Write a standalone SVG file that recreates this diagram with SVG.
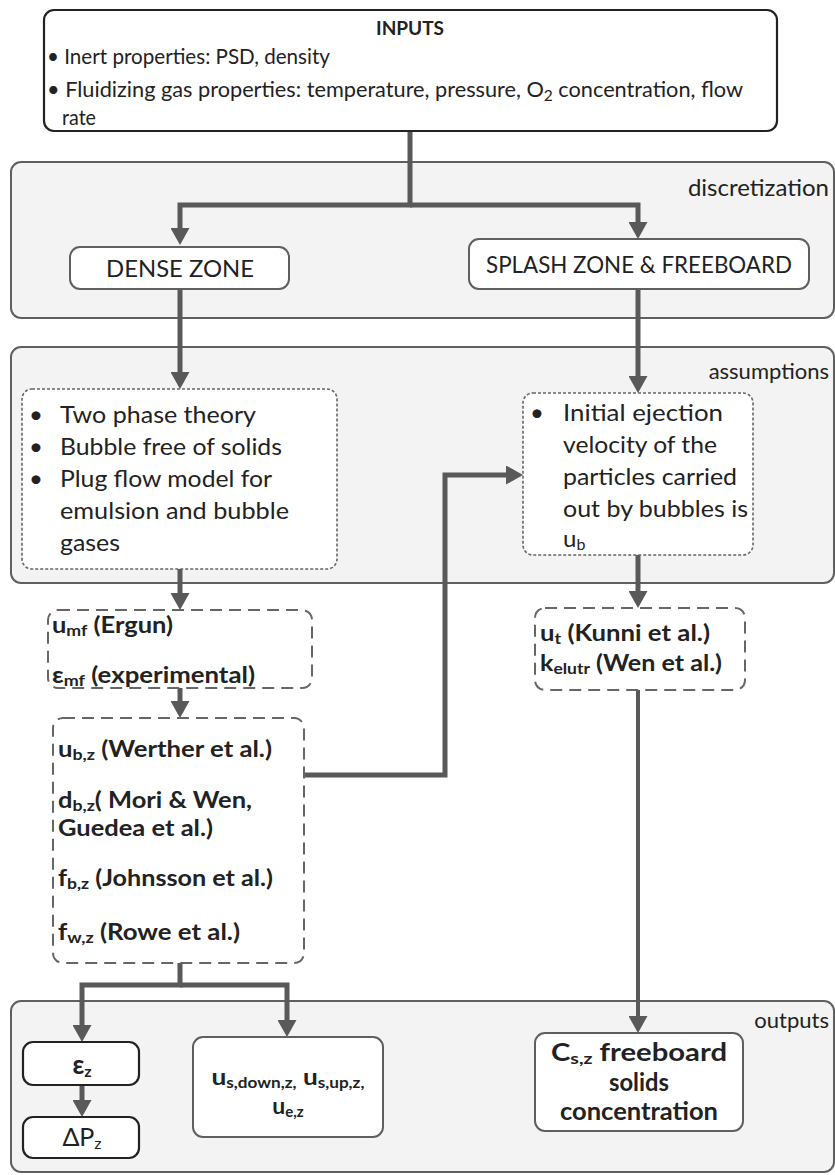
<svg xmlns="http://www.w3.org/2000/svg" width="835" height="1175" viewBox="0 0 835 1175">
<defs>
  <marker id="arrow" viewBox="0 0 17 19" refX="9" refY="9.5" markerWidth="17" markerHeight="19" markerUnits="userSpaceOnUse" orient="auto">
    <path d="M0,0 L17,9.5 L0,19 z" fill="#595959"/>
  </marker>
  <style>
    .panel{fill:#f2f3f2;stroke:#5f5f5f;stroke-width:2}
    .box{fill:#fff;stroke:#5f5f5f;stroke-width:2}
    .boxdark{fill:#fff;stroke:#222;stroke-width:2.2}
    .dotted{fill:#fff;stroke:#666;stroke-width:1.6;stroke-dasharray:3 2}
    .dashed{fill:#fff;stroke:#666;stroke-width:2;stroke-dasharray:12 7}
    .conn{fill:none;stroke:#595959;stroke-width:5}
    text{font-family:Lato,"Open Sans","Liberation Sans",sans-serif;fill:#222}
    .b{font-weight:bold}
    .lab{font-size:22px;text-anchor:end}
    .list{font-size:24px}
    .calc{font-size:23px;font-weight:bold}
    .mid{text-anchor:middle}
  </style>
</defs>

<!-- background panels -->
<g id="panel-discretization">
  <rect class="panel" x="11" y="162" width="823" height="156" rx="10"/>
  <text class="lab" x="829" y="196" style="font-size:24px">discretization</text>
</g>
<g id="panel-assumptions">
  <rect class="panel" x="11" y="347" width="823" height="236" rx="10"/>
  <text class="lab" x="829" y="379">assumptions</text>
</g>
<g id="panel-outputs">
  <rect class="panel" x="11" y="1001" width="823" height="171" rx="10"/>
  <text class="lab" x="829" y="1028">outputs</text>
</g>

<!-- connectors -->
<g id="connectors" class="conn">
  <path d="M410,131 V205 H180 V237" marker-end="url(#arrow)"/>
  <path d="M410,205 H638 V231" marker-end="url(#arrow)"/>
  <path d="M180,289 V381" marker-end="url(#arrow)"/>
  <path d="M638,289 V385" marker-end="url(#arrow)"/>
  <path d="M180,569 V602" marker-end="url(#arrow)"/>
  <path d="M180,688 V710" marker-end="url(#arrow)"/>
  <path d="M304,775 H445 V475 H515" marker-end="url(#arrow)"/>
  <path d="M638,555 V600" marker-end="url(#arrow)"/>
  <path d="M638,690 V1025" stroke-width="4" marker-end="url(#arrow)"/>
  <path d="M180,963 V985 H82 V1034" marker-end="url(#arrow)"/>
  <path d="M180,985 H287 V1029" marker-end="url(#arrow)"/>
  <path d="M82,1085 V1109" marker-end="url(#arrow)"/>
</g>

<!-- inputs -->
<g id="inputs">
  <rect class="boxdark" x="44" y="10" width="733" height="121" rx="10"/>
  <text class="b mid" x="410" y="35" font-size="19" textLength="68" lengthAdjust="spacingAndGlyphs">INPUTS</text>
  <text x="47" y="64" font-size="21" textLength="283" lengthAdjust="spacingAndGlyphs">• Inert properties: PSD, density</text>
  <text x="47" y="97" font-size="21" textLength="696" lengthAdjust="spacingAndGlyphs">• Fluidizing gas properties: temperature, pressure, O<tspan font-size="15" dy="4">2</tspan><tspan dy="-4">  concentration, flow</tspan></text>
  <text x="62" y="125" font-size="21" textLength="34" lengthAdjust="spacingAndGlyphs">rate</text>
</g>

<!-- discretization -->
<g id="dense-zone">
  <rect class="box" x="70" y="247" width="219" height="42" rx="10"/>
  <text class="mid" x="180" y="277" font-size="23" textLength="148" lengthAdjust="spacingAndGlyphs">DENSE ZONE</text>
</g>
<g id="splash-zone">
  <rect class="box" x="469" y="239" width="340" height="50" rx="10"/>
  <text class="mid" x="639" y="273" font-size="23" textLength="306" lengthAdjust="spacingAndGlyphs">SPLASH ZONE &amp; FREEBOARD</text>
</g>

<!-- assumptions -->
<g id="dense-assumptions">
  <rect class="dotted" x="22" y="389" width="315" height="180" rx="10"/>
  <g class="list">
    <text x="29" y="423">•</text><text x="60" y="423" textLength="196" lengthAdjust="spacingAndGlyphs">Two phase theory</text>
    <text x="29" y="455">•</text><text x="60" y="455" textLength="222" lengthAdjust="spacingAndGlyphs">Bubble free of solids</text>
    <text x="29" y="487">•</text><text x="60" y="487" textLength="212" lengthAdjust="spacingAndGlyphs">Plug flow model for</text>
    <text x="60" y="519" textLength="229" lengthAdjust="spacingAndGlyphs">emulsion and bubble</text>
    <text x="60" y="551" textLength="60" lengthAdjust="spacingAndGlyphs">gases</text>
  </g>
</g>
<g id="splash-assumptions">
  <rect class="dotted" x="523" y="393" width="230" height="162" rx="10"/>
  <g class="list">
    <text x="530" y="421">•</text><text x="563" y="421" textLength="160" lengthAdjust="spacingAndGlyphs">Initial ejection</text>
    <text x="563" y="453" textLength="154" lengthAdjust="spacingAndGlyphs">velocity of the</text>
    <text x="563" y="485" textLength="174" lengthAdjust="spacingAndGlyphs">particles carried</text>
    <text x="563" y="517" textLength="185" lengthAdjust="spacingAndGlyphs">out by bubbles is</text>
    <text x="563" y="547">u<tspan font-size="16" dy="3">b</tspan></text>
  </g>
</g>

<!-- correlations -->
<g id="minimum-fluidization">
  <rect class="dashed" x="48" y="610" width="264" height="78" rx="10"/>
  <text class="calc" x="52" y="633" textLength="121" lengthAdjust="spacingAndGlyphs">u<tspan font-size="16" dy="3">mf</tspan><tspan dy="-3"> (Ergun)</tspan></text>
  <text class="calc" x="52" y="683" textLength="203" lengthAdjust="spacingAndGlyphs">ε<tspan font-size="16" dy="3">mf</tspan><tspan dy="-3"> (experimental)</tspan></text>
</g>
<g id="bubble-correlations">
  <rect class="dashed" x="53" y="718" width="251" height="245" rx="10"/>
  <text class="calc" x="58" y="757" textLength="214" lengthAdjust="spacingAndGlyphs">u<tspan font-size="16" dy="3">b,z</tspan><tspan dy="-3"> (Werther et al.)</tspan></text>
  <text class="calc" x="58" y="808" textLength="194" lengthAdjust="spacingAndGlyphs">d<tspan font-size="16" dy="3">b,z</tspan><tspan dy="-3">( Mori &amp; Wen,</tspan></text>
  <text class="calc" x="58" y="836" textLength="155" lengthAdjust="spacingAndGlyphs">Guedea et al.)</text>
  <text class="calc" x="58" y="886" textLength="215" lengthAdjust="spacingAndGlyphs">f<tspan font-size="16" dy="3">b,z</tspan><tspan dy="-3"> (Johnsson et al.)</tspan></text>
  <text class="calc" x="58" y="940" textLength="182" lengthAdjust="spacingAndGlyphs">f<tspan font-size="16" dy="3">w,z</tspan><tspan dy="-3"> (Rowe et al.)</tspan></text>
</g>
<g id="elutriation">
  <rect class="dashed" x="535" y="608" width="210" height="82" rx="10"/>
  <text class="calc" x="540" y="641" textLength="170" lengthAdjust="spacingAndGlyphs">u<tspan font-size="16" dy="3">t</tspan><tspan dy="-3">  (Kunni et al.)</tspan></text>
  <text class="calc" x="540" y="671" textLength="182" lengthAdjust="spacingAndGlyphs">k<tspan font-size="16" dy="3">elutr</tspan><tspan dy="-3"> (Wen et al.)</tspan></text>
</g>

<!-- outputs -->
<g id="voidage">
  <rect class="boxdark" x="23" y="1042" width="116" height="43" rx="10"/>
  <text class="calc mid" x="82" y="1074" style="font-size:26px">ε<tspan font-size="16" dy="3">z</tspan></text>
</g>
<g id="pressure-drop">
  <rect class="boxdark" x="23" y="1117" width="116" height="41" rx="10"/>
  <text class="mid" x="82" y="1146" font-size="25">ΔP<tspan font-size="16" dy="3">z</tspan></text>
</g>
<g id="solids-velocities">
  <rect class="box" x="193" y="1037" width="190" height="100" rx="10"/>
  <text class="calc mid" x="288" y="1085" textLength="153" lengthAdjust="spacingAndGlyphs">u<tspan font-size="15" dy="3">s,down,z,</tspan><tspan dy="-3"> u</tspan><tspan font-size="15" dy="3">s,up,z,</tspan></text>
  <text class="calc mid" x="288" y="1114">u<tspan font-size="15" dy="3">e,z</tspan></text>
</g>
<g id="freeboard-concentration">
  <rect class="box" x="535" y="1033" width="208" height="98" rx="10"/>
  <text class="calc mid" x="639" y="1061" style="font-size:24px" textLength="176" lengthAdjust="spacingAndGlyphs">C<tspan font-size="16" dy="3">s,z</tspan><tspan dy="-3"> freeboard</tspan></text>
  <text class="calc mid" x="639" y="1091" style="font-size:24px" textLength="60" lengthAdjust="spacingAndGlyphs">solids</text>
  <text class="calc mid" x="639" y="1120" style="font-size:24px" textLength="158" lengthAdjust="spacingAndGlyphs">concentration</text>
</g>
</svg>
